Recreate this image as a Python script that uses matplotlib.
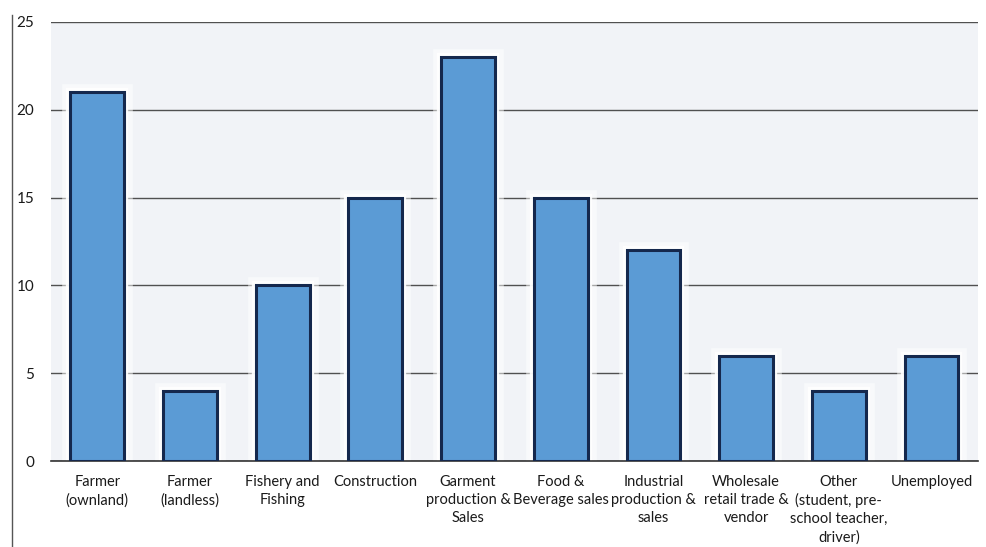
import matplotlib.pyplot as plt
from matplotlib.lines import Line2D

# occupations and counts
categories = ['Farmer\n(ownland)', 'Farmer\n(landless)', 'Fishery and\nFishing', 'Construction',
              'Garment\nproduction &\nSales', 'Food &\nBeverage sales', 'Industrial\nproduction &\nsales',
              'Wholesale\nretail trade &\nvendor', 'Other\n(student, pre-\nschool teacher,\ndriver)',
              'Unemployed']
values = [21, 4, 10, 15, 23, 15, 12, 6, 4, 6]
yticks = [0, 5, 10, 15, 20, 25]

plt.rcParams['font.family'] = ['Lato', 'DejaVu Sans']

fig = plt.figure(figsize=(9.86, 5.47), dpi=100)
ax = fig.add_axes([0.0517, 0.157, 0.940, 0.803])
ax.set_facecolor('#f1f3f7')

x = list(range(len(values)))
# soft white glow behind bars
ax.bar(x, values, width=0.58, color='none', edgecolor='white', linewidth=12, alpha=0.5, zorder=2)
ax.bar(x, values, width=0.58, color='none', edgecolor='white', linewidth=6, alpha=0.9, zorder=2)
ax.bar(x, values, width=0.58, color='#5b9bd5', edgecolor='#15284d', linewidth=2.2, zorder=3)

ax.set_xlim(-0.5, len(values) - 0.5)
ax.set_ylim(0, 25)
ax.set_yticks(yticks)
ax.yaxis.grid(True, color='#505050', linewidth=1)
ax.set_axisbelow(True)
ax.set_xticks(x)
ax.set_xticklabels(categories, fontsize=10.5, linespacing=1.36, color='#1a1a1a')
ax.tick_params(axis='x', length=0, pad=10)
ax.tick_params(axis='y', length=0, pad=12, labelsize=11, labelcolor='#1a1a1a')
for s in ['top', 'right', 'left']:
    ax.spines[s].set_visible(False)
ax.spines['bottom'].set_color('#333333')
ax.spines['bottom'].set_linewidth(1.2)

# thin vertical rule at far left of the figure
fig.add_artist(Line2D([12 / 986, 12 / 986], [0, 1 - 15 / 547], color='#555555', linewidth=1))

fig.savefig('out.png', dpi=100)
